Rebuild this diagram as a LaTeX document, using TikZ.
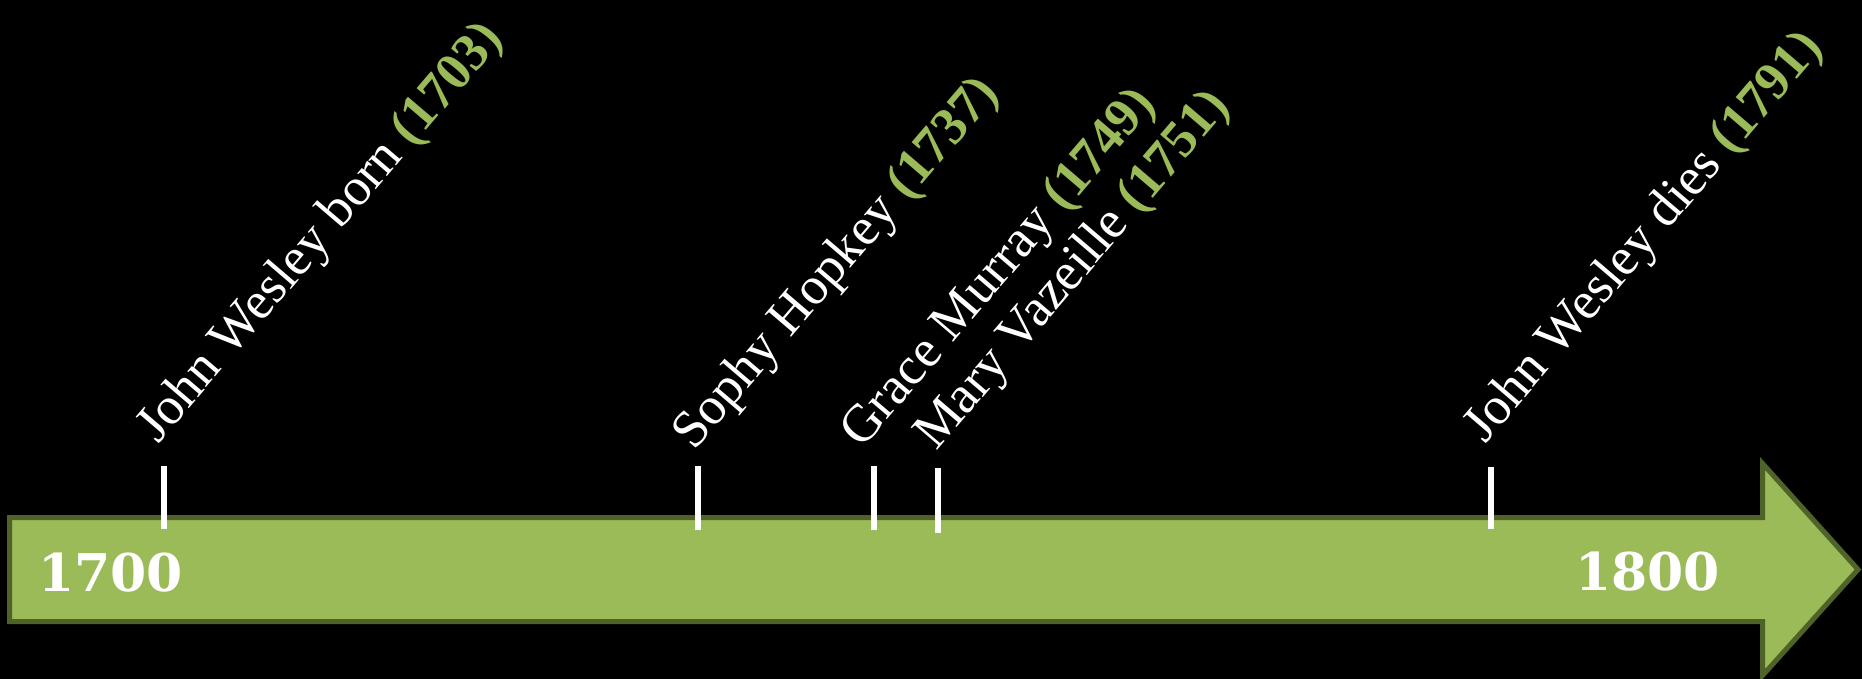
\documentclass[tikz,border=0pt]{standalone}
\usepackage{fontspec}
\setmainfont{Liberation Serif}
\newfontfamily\yearfont{DejaVu Serif}
\definecolor{tlgreen}{HTML}{9BBB59}
\definecolor{tldark}{HTML}{4F6228}
\begin{document}
\begin{tikzpicture}[x=1pt,y=-1pt,
  event/.style={anchor=base west, rotate=49.5, inner sep=0pt, text=white,
    font=\fontsize{53}{60}\selectfont},
  tickline/.style={draw=white, line width=6pt},
  yearlabel/.style={anchor=base west, inner sep=0pt, text=white,
    font=\yearfont\bfseries\fontsize{52}{60}\selectfont}]
\fill[black] (0,0) rectangle (1862,679);
\useasboundingbox (0,0) rectangle (1862,679);
% arrow
\draw[fill=tlgreen, draw=tldark, line width=5pt, line join=miter]
  (9.5,517.5) -- (1762.5,517.5) -- (1762.5,463.5) -- (1858,569.5)
  -- (1762.5,675.5) -- (1762.5,621.5) -- (9.5,621.5) -- cycle;
% tick coordinates
\coordinate (t1a) at (164,466); \coordinate (t1b) at (164,529);
\coordinate (t2a) at (698,466); \coordinate (t2b) at (698,530);
\coordinate (t3a) at (874,466); \coordinate (t3b) at (874,530);
\coordinate (t4a) at (938,468); \coordinate (t4b) at (938,533);
\coordinate (t5a) at (1491,467); \coordinate (t5b) at (1491,529);
\draw[tickline] (t1a) -- (t1b);
\draw[tickline] (t2a) -- (t2b);
\draw[tickline] (t3a) -- (t3b);
\draw[tickline] (t4a) -- (t4b);
\draw[tickline] (t5a) -- (t5b);
% labels
\node[event] (e1) at (158,445) {John Wesley born {\color{tlgreen}\bfseries(1703)}};
\node[event] (e2) at (694,452) {Sophy Hopkey {\color{tlgreen}\bfseries(1737)}};
\node[event] (e3) at (862,450) {Grace Murray {\color{tlgreen}\bfseries(1749)}};
\node[event] (e4) at (936,452) {Mary Vazeille {\color{tlgreen}\bfseries(1751)}};
\node[event] (e5) at (1485,445) {John Wesley dies {\color{tlgreen}\bfseries(1791)}};
% years
\node[yearlabel] (y1) at (38,591) {1700};
\node[yearlabel] (y2) at (1575,590) {1800};
\end{tikzpicture}
\end{document}
